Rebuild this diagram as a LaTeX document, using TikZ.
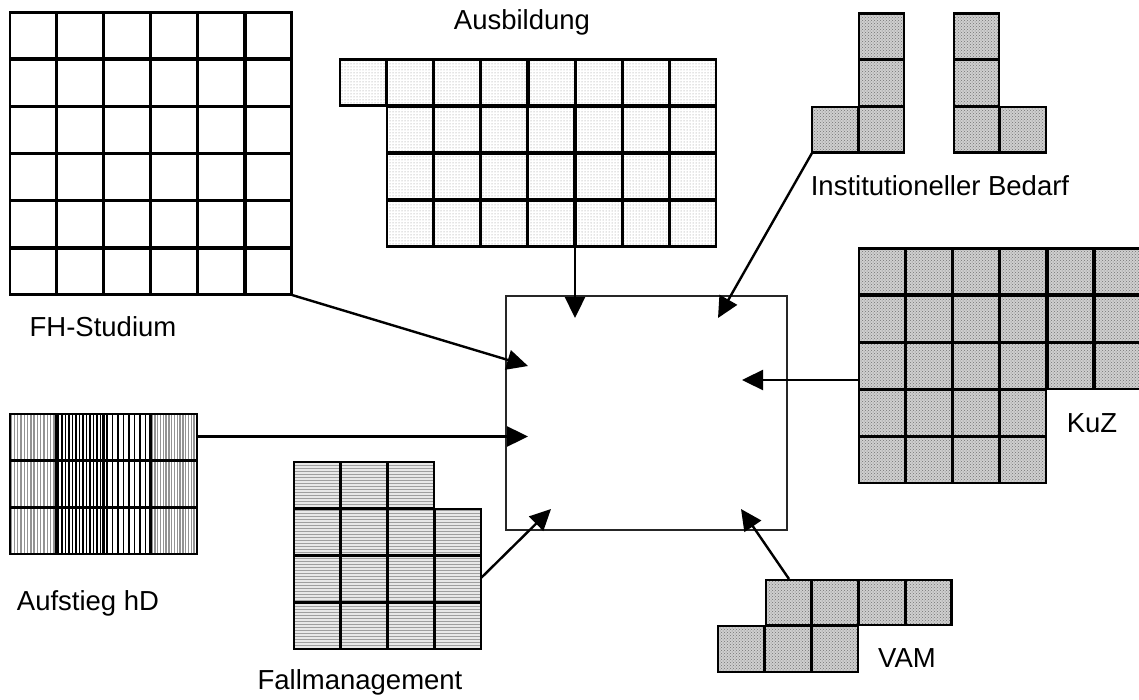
\documentclass[tikz,border=0pt]{standalone}
\usepackage{fontspec}
\setmainfont{Liberation Sans}
\usetikzlibrary{arrows.meta,patterns}
\begin{document}
\begin{tikzpicture}[x=1pt,y=-1pt,
  gridline/.style={draw=black,line width=2.2pt},
  whitecell/.style={gridline,fill=white},
  dotcell/.style={fill=white,postaction={pattern=dots,pattern color=gray!90},postaction={gridline}},
  densecell/.style={fill=gray!38,postaction={pattern=crosshatch dots,pattern color=black!55},postaction={gridline}},
  wavecell/.style={fill=gray!18,postaction={pattern=horizontal lines,pattern color=gray!75},postaction={gridline}},
  linecell/.style={gridline},
  lbl/.style={font=\fontsize{27.5}{30}\selectfont,anchor=base,inner sep=0pt},
  feed/.style={line width=2.4pt,-{Triangle[length=21pt,width=20pt]}},
  centerbox/.style={draw=black!85,line width=1.8pt,minimum width=281pt,minimum height=234pt,inner sep=0pt}
]
\useasboundingbox (0,0) rectangle (1139,700);

% FH-Studium
\foreach \i in {0,...,5}
  \foreach \j in {0,...,5}
    \draw[whitecell] ({9.6+47.17*\i},{12.6+47.17*\j}) rectangle ++(46,46);
\node[lbl] (fhl) at (103,336) {FH-Studium};
\coordinate (fh) at (292,295);

% Ausbildung
\foreach \i in {0,...,7}
  \path[dotcell] ({339.6+47.25*\i},59.6) rectangle ++(46,46);
\foreach \j in {1,2,3}
  \foreach \i in {0,...,6}
    \path[dotcell] ({386.6+47.25*\i},{59.6+47*\j}) rectangle ++(46,46);
\node[lbl] (ausl) at (522,30) {Ausbildung};
\coordinate (aus) at (575,247);

% Institutioneller Bedarf
\foreach \p in {(858.6,13.6),(858.6,60.3),(858.6,107),(812,107),(953.6,13.6),(953.6,60.3),(953.6,107),(1000.3,107)}
  \path[densecell] \p rectangle ++(45.6,45.6);
\node[lbl] (instl) at (940,196) {Institutioneller Bedarf};
\coordinate (inst) at (812,153);

% KuZ
\foreach \j in {0,1,2}
  \foreach \i in {0,...,5}
    \path[densecell] ({858.6+47.2*\i},{248.6+47*\j}) rectangle ++(46,46);
\foreach \j in {3,4}
  \foreach \i in {0,...,3}
    \path[densecell] ({858.6+47.2*\i},{248.6+47*\j}) rectangle ++(46,46);
\node[lbl] (kuzl) at (1092,432) {KuZ};
\coordinate (kuz) at (858,380);

% Aufstieg hD
\foreach \x in {11,14.3,...,55} \draw[gray!85,line width=1.4pt] (\x,414) -- (\x,554);
\foreach \x in {58.5,62,...,102} \draw[black,line width=1.4pt] (\x,414) -- (\x,554);
\foreach \x in {107,112.5,...,149} \draw[black,line width=1.3pt] (\x,414) -- (\x,554);
\foreach \x in {152,154.8,...,196} \draw[gray!85,line width=1.4pt] (\x,414) -- (\x,554);
\foreach \j in {0,1,2}
  \foreach \i in {0,...,3}
    \draw[linecell] ({9.6+47*\i},{414.3+46.7*\j}) rectangle ++(46,46);
\node[lbl] (aufl) at (88,610) {Aufstieg hD};
\coordinate (auf) at (197,436.5);

% Fallmanagement
\foreach \i in {0,1,2}
  \path[wavecell] ({293.6+47*\i},461.6) rectangle ++(46,46);
\foreach \j in {1,2,3}
  \foreach \i in {0,...,3}
    \path[wavecell] ({293.6+47*\i},{461.6+47*\j}) rectangle ++(46,46);
\node[lbl] (falll) at (360,689) {Fallmanagement};
\coordinate (fall) at (481,578);

% VAM
\foreach \i in {0,...,3}
  \path[densecell] ({765.6+46.75*\i},579.6) rectangle ++(45.6,45.6);
\foreach \i in {0,1,2}
  \path[densecell] ({717.6+47*\i},625.6) rectangle ++(46,46);
\node[lbl] (vaml) at (907,667) {VAM};
\coordinate (vam) at (789,579);

% central box
\node[centerbox] (box) at (646.5,413) {};
\coordinate (tfh) at (528,366);
\coordinate (taus) at (575,318);
\coordinate (tinst) at (718,318);
\coordinate (tkuz) at (742,380);
\coordinate (tauf) at (528,436.5);
\coordinate (tfall) at (551,509);
\coordinate (tvam) at (741,509);

\draw[feed] (fh) -- (tfh);
\draw[feed] (aus) -- (taus);
\draw[feed] (inst) -- (tinst);
\draw[feed] (kuz) -- (tkuz);
\draw[feed] (auf) -- (tauf);
\draw[feed] (fall) -- (tfall);
\draw[feed] (vam) -- (tvam);
\end{tikzpicture}
\end{document}
